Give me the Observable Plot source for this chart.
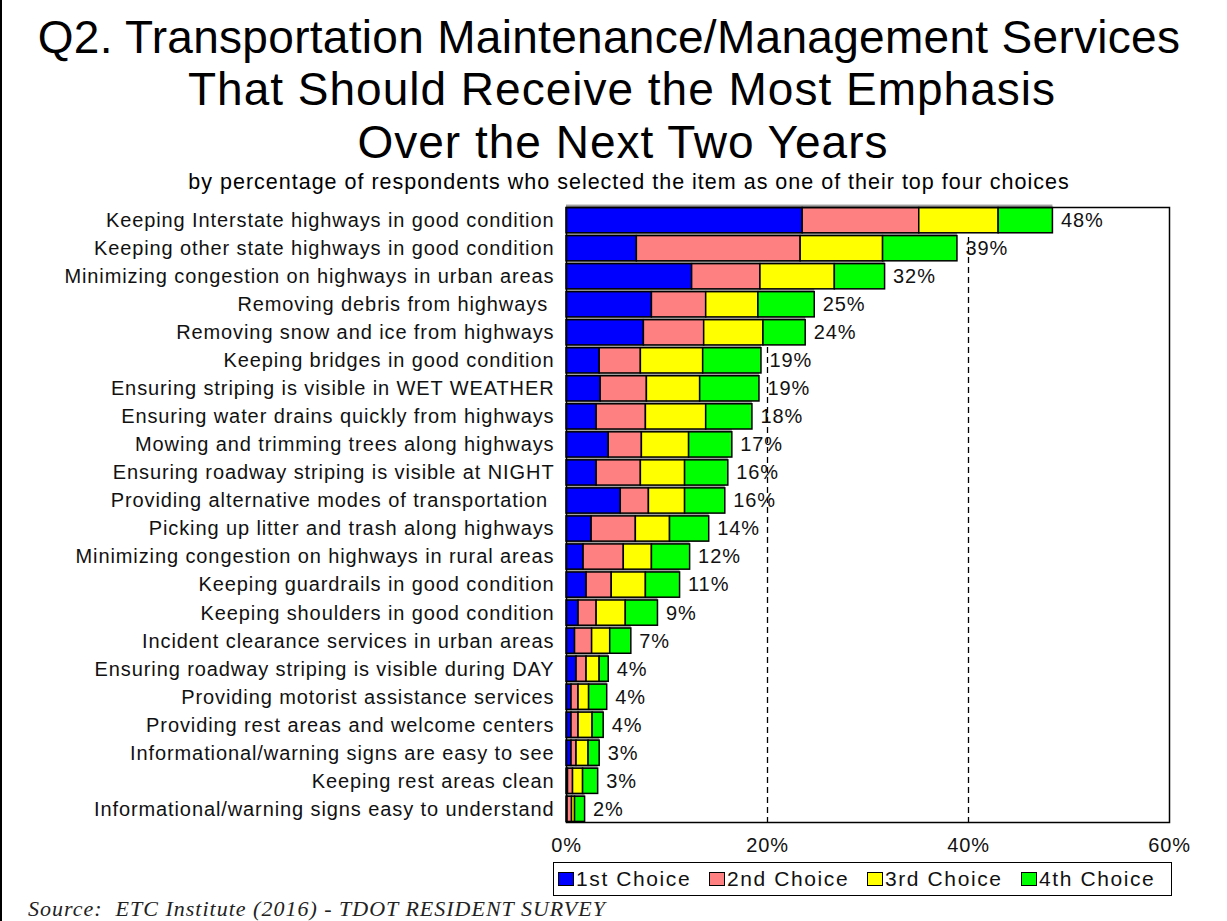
<!DOCTYPE html>
<html><head><meta charset="utf-8">
<script src="https://cdn.jsdelivr.net/npm/d3@7"></script>
<script src="https://cdn.jsdelivr.net/npm/@observablehq/plot@0.6"></script>
<style>
body{margin:0;background:#fff;font-family:"Liberation Sans",Arial,sans-serif;}
#wrap{position:relative;width:1227px;height:921px;overflow:hidden;background:#fff;}
.t{position:absolute;text-align:center;color:#000;white-space:nowrap;transform:translateX(-50%);}
.tl{font-size:46px;line-height:52px;letter-spacing:1px;}
#legend{position:absolute;left:553px;top:862px;width:619px;height:34px;box-sizing:border-box;border:1.5px solid #000;font-size:21px;color:#111;}
#legend .it{position:absolute;top:0;height:31px;display:flex;align-items:center;white-space:nowrap;letter-spacing:1.6px;}
#legend .sw{width:16px;height:14px;border:1.5px solid #000;box-sizing:border-box;margin-right:2px;}
#source{position:absolute;left:28px;top:896px;font-family:"Liberation Serif","Times New Roman",serif;font-style:italic;font-size:22px;letter-spacing:1px;color:#222;white-space:pre;}
#lborder{position:absolute;left:0;top:0;width:2px;height:921px;background:#000;}
</style></head><body>
<div id="wrap">
 <div id="lborder"></div>
 <div class="t tl" style="left:609px;top:11px;letter-spacing:0.3px">Q2. Transportation Maintenance/Management Services</div>
 <div class="t tl" style="left:622px;top:63px">That Should Receive the Most Emphasis</div>
 <div class="t tl" style="left:623px;top:116px">Over the Next Two Years</div>
 <div class="t" style="left:629px;top:170px;font-size:21.5px;line-height:24px;letter-spacing:1px">by percentage of respondents who selected the item as one of their top four choices</div>
 <div id="chart" style="position:absolute;left:0;top:195px"></div>
 <div id="legend"></div>
 <div id="source">Source:  ETC Institute (2016) - TDOT RESIDENT SURVEY</div>
</div>
<script>
const categories = [
"Keeping Interstate highways in good condition",
"Keeping other state highways in good condition",
"Minimizing congestion on highways in urban areas",
"Removing debris from highways\u00a0",
"Removing snow and ice from highways",
"Keeping bridges in good condition",
"Ensuring striping is visible in WET WEATHER",
"Ensuring water drains quickly from highways",
"Mowing and trimming trees along highways",
"Ensuring roadway striping is visible at NIGHT",
"Providing alternative modes of transportation\u00a0",
"Picking up litter and trash along highways",
"Minimizing congestion on highways in rural areas",
"Keeping guardrails in good condition",
"Keeping shoulders in good condition",
"Incident clearance services in urban areas",
"Ensuring roadway striping is visible during DAY",
"Providing motorist assistance services",
"Providing rest areas and welcome centers",
"Informational/warning signs are easy to see",
"Keeping rest areas clean",
"Informational/warning signs easy to understand"];
const series = ["1st Choice","2nd Choice","3rd Choice","4th Choice"];
const colors = ["#0000ff","#ff8080","#ffff00","#00ff00"];
const first  = [23.5,7.0,12.5,8.5,7.7,3.3,3.4,3.0,4.2,3.0,5.4,2.5,1.7,2.0,1.2,0.85,1.0,0.5,0.5,0.5,0.15,0.1];
const second = [11.6,16.3,6.8,5.4,6.0,4.1,4.6,4.9,3.3,4.4,2.8,4.4,4.0,2.5,1.8,1.7,1.0,0.7,0.7,0.5,0.5,0.45];
const third  = [7.9,8.2,7.4,5.2,5.9,6.2,5.3,6.0,4.7,4.4,3.6,3.4,2.8,3.4,2.9,1.8,1.3,1.05,1.4,1.2,1.0,0.3];
const fourth = [5.4,7.4,5.0,5.6,4.2,5.8,5.9,4.6,4.3,4.3,4.0,3.9,3.8,3.4,3.2,2.1,0.9,1.8,1.1,1.1,1.5,1.0];
const totalLabels = ["48%","39%","32%","25%","24%","19%","19%","18%","17%","16%","16%","14%","12%","11%","9%","7%","4%","4%","4%","3%","3%","2%"];
const xTicks = [0,20,40,60];
const legendX = [4, 155, 313, 467];

const seriesValues = [first, second, third, fourth];
const data = [];
categories.forEach((c, i) => {
  series.forEach((s, k) => data.push({cat: c, choice: s, value: seriesValues[k][i]}));
});
const totals = categories.map((c, i) => ({cat: c, total: first[i]+second[i]+third[i]+fourth[i], label: totalLabels[i]}));

const chart = Plot.plot({
  width: 1227, height: 665,
  marginLeft: 566, marginRight: 58, marginTop: 12, marginBottom: 38,
  style: {fontFamily: "Liberation Sans, Arial, sans-serif", fontSize: "20px", color: "#111", background: "transparent", letterSpacing: "0.9px"},
  x: {domain: [0, 60], ticks: xTicks, tickFormat: d => d + "%", label: null, tickSize: 0, tickPadding: 15},
  y: {domain: categories, label: null, tickSize: 0, tickPadding: 12, paddingInner: 0.1, paddingOuter: 0.02, round: false},
  color: {domain: series, range: colors},
  marks: [
    Plot.ruleX([20, 40], {stroke: "#000", strokeWidth: 1.3, strokeDasharray: "6,4"}),
    Plot.barX(totals, {x1: 0, x2: "total", y: "cat", fill: "#a0a0a0", dy: -3}),
    Plot.barX(data, Plot.stackX({x: "value", y: "cat", fill: "choice", stroke: "#000", strokeWidth: 1.5, order: null})),
    Plot.text(totals, {x: "total", y: "cat", text: "label", dx: 8, textAnchor: "start", fontSize: 20, fill: "#111"}),
    Plot.frame({stroke: "#000", strokeWidth: 1.5})
  ]
});
document.getElementById("chart").append(chart);

const leg = document.getElementById("legend");
series.forEach((s, k) => {
  const it = document.createElement("div"); it.className = "it"; it.style.left = legendX[k] + "px";
  const sw = document.createElement("div"); sw.className = "sw"; sw.style.background = colors[k];
  const tx = document.createElement("span"); tx.textContent = s;
  it.append(sw, tx); leg.append(it);
});
</script>
</body></html>
